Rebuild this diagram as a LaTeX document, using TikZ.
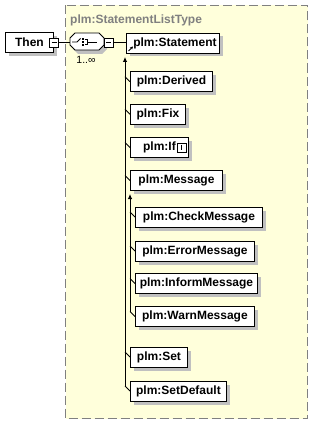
\documentclass[tikz,border=0pt]{standalone}
\usepackage{fontspec}
\setmainfont{Liberation Sans}
\usetikzlibrary{shadows,arrows.meta,calc}
\definecolor{bgyellow}{HTML}{FFFFDB}
\definecolor{shadowgray}{HTML}{C0C0C0}
\definecolor{titlegray}{HTML}{808080}
\newcommand\elemfont{\fontsize{12}{13}\selectfont\bfseries}
\begin{document}
\begin{tikzpicture}[x=1pt,y=-1pt,
 elem/.style={draw=black, line width=0.9pt, fill=white, font=\elemfont, inner sep=0pt,
   minimum height=20pt, anchor=west,
   drop shadow={shadow xshift=3.5pt,shadow yshift=-3.5pt,opacity=1,fill=shadowgray}},
 pm/.style={draw=black, line width=0.7pt, fill=white, minimum size=9pt, inner sep=0pt,
   path picture={\draw[line width=0.7pt] ([xshift=2pt]path picture bounding box.west) -- ([xshift=-2pt]path picture bounding box.east);}},
 plus/.style={path picture={\draw[line width=0.7pt] ([yshift=-2pt]path picture bounding box.north) -- ([yshift=2pt]path picture bounding box.south);}},
 conn/.style={line width=0.8pt, draw=black},
 uparrow/.style={conn, -{Latex[length=5pt,width=4.5pt]}},
]
\useasboundingbox (0,0) rectangle (313,425);
\fill[white] (0,0) rectangle (313,425);
\draw[fill=bgyellow, draw=titlegray, line width=1pt, dash pattern=on 9pt off 4pt] (65.5,5.5) rectangle (307.5,418.5);
\node[anchor=west, font=\elemfont, text=titlegray, inner sep=0pt] (title) at (70,20) {plm:StatementListType};

% Then element
\node[elem, minimum width=48pt] (then) at (5,42.5) {Then\hspace{4pt}};
\node[pm] (thenminus) at (54,42.5) {};

% sequence compositor
\node[minimum width=34pt, minimum height=17pt, inner sep=0pt] (seq) at (87,41.5) {};
\fill[shadowgray] (78,37) -- (102,37) -- (107,42) -- (107,49) -- (102,54) -- (78,54) -- (73,49) -- (73,42) -- cycle;
\draw[line width=0.9pt, fill=white] (75,33) -- (99,33) -- (104,38) -- (104,45) -- (99,50) -- (75,50) -- (70,45) -- (70,38) -- cycle;
\draw[line width=0.8pt] (72,42) -- (77,42) -- (80.5,38.5);
\fill (81.8,38.3) rectangle (83.6,40.1);
\fill (81.8,41.1) rectangle (83.6,42.9);
\fill (81.8,43.9) rectangle (83.6,45.7);
\draw[line width=0.8pt] (84.5,39.2) -- (87.5,39.2) -- (87.5,44.8) -- (84.5,44.8);
\draw[line width=0.8pt] (87.5,42) -- (97,42);
\node[pm] (seqminus) at (108.5,42.5) {};
\node[font=\fontsize{10.5}{12}\selectfont, inner sep=0pt] (mult) at (86,60) {1..∞};

\draw[conn] (thenminus.east) -- (thenminus.east -| seq.west);

% elements
\node[elem, minimum width=93pt] (stmt) at (126,43) {\hspace{4pt}plm:Statement};
\draw[line width=0.8pt, -{Stealth[length=3pt,width=3pt]}] (128.5,51) -- (133,46.5);
\draw[conn] (seqminus.east) -- (seqminus.east -| stmt.west);

\node[elem, minimum width=82pt] (deriv) at (130,81.7) {plm:Derived};
\node[elem, minimum width=55pt] (fix) at (130,114.3) {plm:Fix};
\node[elem, minimum width=58pt] (ifel) at (130,147.5) {plm:If\hspace{15pt}};
\node[pm, plus] (ifplus) at ([xshift=-7.5pt]ifel.east) {};
\node[elem, minimum width=92pt] (msg) at (130,180.5) {plm:Message};
\node[elem, minimum width=127pt] (check) at (135,217) {plm:CheckMessage};
\node[elem, minimum width=119pt] (error) at (135,251) {plm:ErrorMessage};
\node[elem, minimum width=122pt] (inform) at (135,283.5) {plm:InformMessage};
\node[elem, minimum width=119pt] (warn) at (135,316.5) {plm:WarnMessage};
\node[elem, minimum width=57pt] (set) at (130,357) {plm:Set};
\node[elem, minimum width=96pt] (setdef) at (130,391) {plm:SetDefault};

% substitution group connectors
\coordinate (maintop) at (125,57);
\coordinate (mainbot) at (125,386);
\draw[uparrow] (mainbot) -- (maintop);
\foreach \n in {deriv,fix,ifel,msg,set,setdef}
  \draw[conn] ([xshift=-5pt,yshift=5pt]\n.west) -- (\n.west);

\coordinate (msgtop) at (130,194);
\coordinate (msgbot) at (130,311.5);
\draw[uparrow] (msgbot) -- (msgtop);
\foreach \n in {check,error,inform,warn}
  \draw[conn] ([xshift=-5pt,yshift=5pt]\n.west) -- (\n.west);
\end{tikzpicture}
\end{document}
